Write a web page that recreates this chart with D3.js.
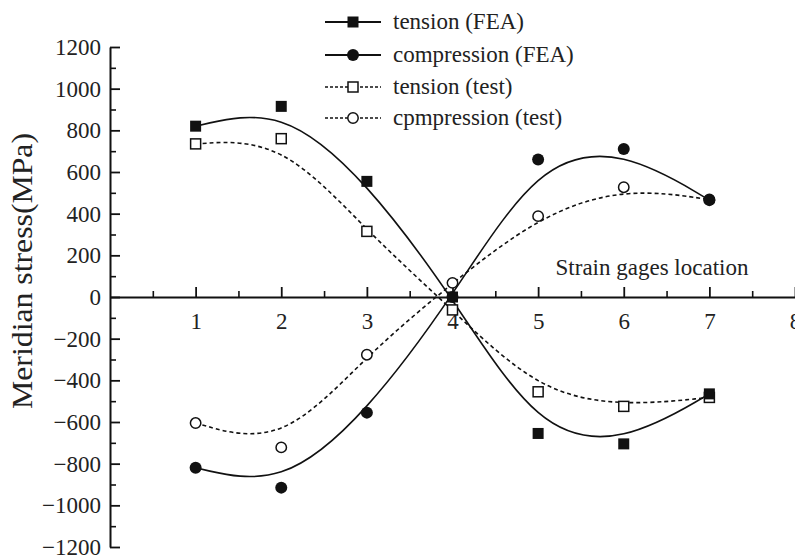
<!DOCTYPE html>
<html>
<head>
<script src="https://d3js.org/d3.v7.min.js"></script>
<style>
  body, html { margin: 0; padding: 0; background: #fff; overflow: hidden; }
  svg { display: block; }
  text { font-family: "Liberation Serif", "Times New Roman", serif; fill: #222; }
</style>
</head>
<body>
<svg id="chart" width="795" height="558"></svg>
<script>
// strain gage locations
const locations = [1, 2, 3, 4, 5, 6, 7];

// meridian stress values (MPa)
const tensionFEA     = [820, 915, 555, 0, -655, -705, -465];
const compressionFEA = [-820, -915, -555, 0, 660, 710, 465];
const tensionTest    = [735, 760, 315, -62, -455, -525, -482];
const compressionTest = [-605, -722, -277, 68, 388, 527, 468];

const seriesNames = ["tension (FEA)", "compression (FEA)", "tension (test)", "cpmpression (test)"];

const xTicks = [1, 2, 3, 4, 5, 6, 7, 8];
const yTicks = [-1200, -1000, -800, -600, -400, -200, 0, 200, 400, 600, 800, 1000, 1200];

const series = [
  { name: seriesNames[0], values: tensionFEA, shape: "square", filled: true, dashed: false },
  { name: seriesNames[1], values: compressionFEA, shape: "circle", filled: true, dashed: false },
  { name: seriesNames[2], values: tensionTest, shape: "square", filled: false, dashed: true },
  { name: seriesNames[3], values: compressionTest, shape: "circle", filled: false, dashed: true }
];

const svg = d3.select("#chart");

const x = d3.scaleLinear().domain([0, 8]).range([110, 795]);
const y = d3.scaleLinear().domain([-1200, 1200]).range([547, 47]);

// y axis: minor ticks then major ticks with labels
svg.append("g")
  .attr("transform", `translate(${x(0)},0)`)
  .call(d3.axisLeft(y).tickValues(d3.range(-1100, 1200, 200)).tickSizeInner(-6).tickSizeOuter(0).tickFormat(""))
  .call(g => g.select(".domain").remove())
  .call(g => g.selectAll("line").attr("stroke", "#111").attr("stroke-width", 1.6));

svg.append("g")
  .attr("transform", `translate(${x(0)},0)`)
  .call(d3.axisLeft(y).tickValues(yTicks).tickSizeInner(-10).tickSizeOuter(0).tickPadding(9)
    .tickFormat(d => d < 0 ? "\u2212" + Math.abs(d) : d))
  .call(g => g.select(".domain").attr("stroke", "#111").attr("stroke-width", 2))
  .call(g => g.selectAll("line").attr("stroke", "#111").attr("stroke-width", 1.8))
  .call(g => g.selectAll("text").attr("font-size", 23).attr("font-family", null).attr("fill", "#222"));

// x axis along y = 0
svg.append("g")
  .attr("transform", `translate(0,${y(0)})`)
  .call(d3.axisBottom(x).tickValues(d3.range(0.5, 8, 1)).tickSizeInner(-6).tickSizeOuter(0).tickFormat(""))
  .call(g => g.select(".domain").remove())
  .call(g => g.selectAll("line").attr("stroke", "#111").attr("stroke-width", 1.6));

svg.append("g")
  .attr("transform", `translate(0,${y(0)})`)
  .call(d3.axisBottom(x).tickValues(xTicks).tickSizeInner(-10).tickSizeOuter(0).tickPadding(16).tickFormat(d3.format("d")))
  .call(g => g.select(".domain").attr("stroke", "#111").attr("stroke-width", 2))
  .call(g => g.selectAll("line").attr("stroke", "#111").attr("stroke-width", 1.8))
  .call(g => g.selectAll("text").attr("font-size", 23).attr("font-family", null).attr("fill", "#222"));

// axis titles
svg.append("text")
  .attr("transform", `translate(32,${y(125)}) rotate(-90)`)
  .attr("text-anchor", "middle")
  .attr("font-size", 30)
  .attr("textLength", 276)
  .attr("lengthAdjust", "spacingAndGlyphs")
  .text("Meridian stress(MPa)");

svg.append("text")
  .attr("x", 652).attr("y", 275)
  .attr("text-anchor", "middle")
  .attr("font-size", 23)
  .text("Strain gages location");

// B-spline curves through the points
const line = d3.line()
  .x((d, i) => x(locations[i]))
  .y(d => y(d))
  .curve(d3.curveBasis);

svg.selectAll(".curve")
  .data(series)
  .enter().append("path")
  .attr("class", "curve")
  .attr("d", d => line(d.values))
  .attr("fill", "none")
  .attr("stroke", "#111")
  .attr("stroke-width", 1.6)
  .attr("stroke-dasharray", d => d.dashed ? "4,3" : null);

function drawMarker(g, s, cx, cy) {
  if (s.shape === "square") {
    const a = s.filled ? 11 : 10;
    g.append("rect")
      .attr("x", cx - a / 2).attr("y", cy - a / 2)
      .attr("width", a).attr("height", a)
      .attr("fill", s.filled ? "#111" : "#fff")
      .attr("stroke", "#111")
      .attr("stroke-width", s.filled ? 0 : 1.5);
  } else {
    g.append("circle")
      .attr("cx", cx).attr("cy", cy)
      .attr("r", s.filled ? 6 : 5.2)
      .attr("fill", s.filled ? "#111" : "#fff")
      .attr("stroke", "#111")
      .attr("stroke-width", s.filled ? 0 : 1.5);
  }
}

// markers: test series first so FEA markers sit on top
[2, 3, 0, 1].forEach(k => {
  const s = series[k];
  const g = svg.append("g");
  s.values.forEach((v, i) => drawMarker(g, s, x(locations[i]), y(v)));
});

// legend
const legendRows = [22, 55, 87, 118];
series.forEach((s, i) => {
  const g = svg.append("g");
  const ly = legendRows[i];
  g.append("line")
    .attr("x1", 325).attr("x2", 381)
    .attr("y1", ly).attr("y2", ly)
    .attr("stroke", "#111")
    .attr("stroke-width", s.dashed ? 1.4 : 2)
    .attr("stroke-dasharray", s.dashed ? "3,2" : null);
  drawMarker(g, s, 353, ly);
  g.append("text")
    .attr("x", 393).attr("y", ly + 7)
    .attr("font-size", 23)
    .text(s.name);
});
</script>
</body>
</html>
